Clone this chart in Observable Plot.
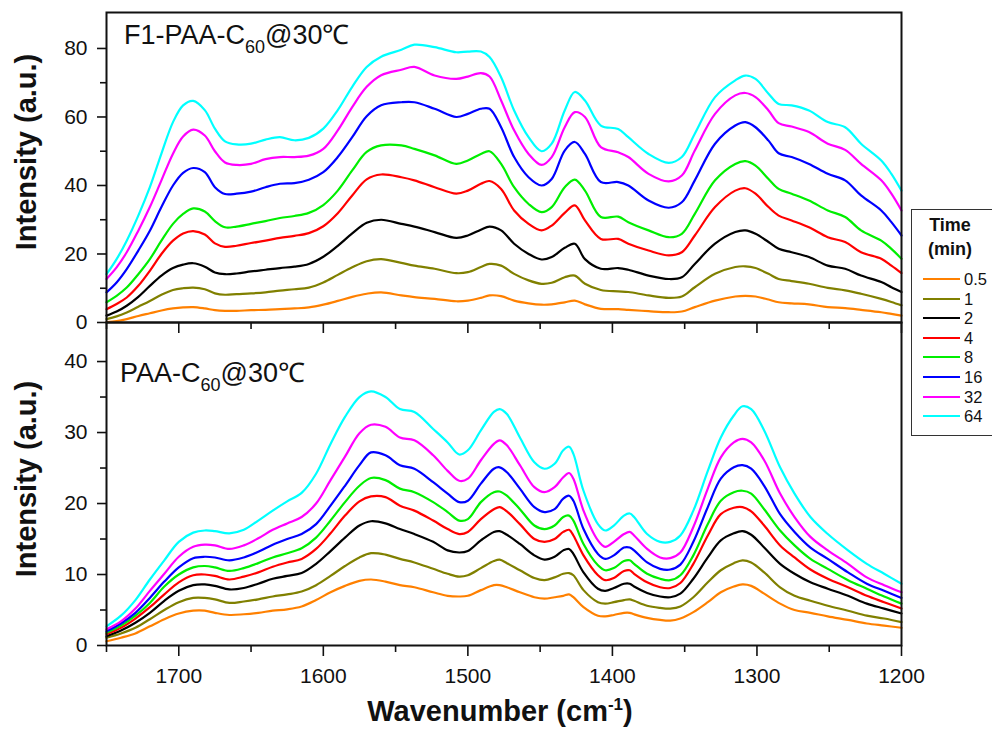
<!DOCTYPE html>
<html><head><meta charset="utf-8">
<script src="https://cdn.jsdelivr.net/npm/d3@7"></script>
<script src="https://cdn.jsdelivr.net/npm/@observablehq/plot@0.6"></script>
<style>
html,body{margin:0;padding:0;background:#fff;}
#wrap{position:relative;width:992px;height:730px;overflow:hidden;font-family:"Liberation Sans",Arial,sans-serif;color:#111;background:#fff;}
#wrap svg{position:absolute;left:0;}
.ylab{position:absolute;font-weight:bold;font-size:29px;line-height:1;white-space:nowrap;transform:translate(-50%,-50%) rotate(-90deg);}
.xlab{position:absolute;font-weight:bold;font-size:29px;line-height:1;white-space:nowrap;transform:translate(-50%,-50%);}
.xlab sup{font-size:17px;vertical-align:11px;line-height:0;}
.plab{position:absolute;font-size:27px;line-height:27px;white-space:nowrap;}
.plab sub{font-size:18px;vertical-align:-9px;line-height:0;}
#legend{position:absolute;left:911px;top:209px;width:100px;height:227px;border:1.5px solid #333;box-sizing:border-box;}
.lt{position:absolute;font-weight:bold;font-size:18px;line-height:1;transform:translate(-50%,-50%);white-space:nowrap;}
.li{position:absolute;font-size:16.5px;line-height:1;transform:translateY(-50%);}
.ls{position:absolute;height:2px;transform:translateY(-50%);}
</style></head><body><div id="wrap"></div>
<script>
// ---- categories / tick labels ----
const times = ["0.5", "1", "2", "4", "8", "16", "32", "64"];
const colors = ["#FF8000", "#808000", "#000000", "#FF0000", "#00EE00", "#0000FF", "#FF00FF", "#00FFFF"];
const xMajor = [1700, 1600, 1500, 1400, 1300, 1200];
const xMinor = [1750, 1650, 1550, 1450, 1350, 1250];
const yTopMajor = [0, 20, 40, 60, 80];
const yTopMinor = [10, 30, 50, 70];
const yBotMajor = [0, 10, 20, 30, 40];
const yBotMinor = [5, 15, 25, 35];

// ---- top panel: F1-PAA-C60 ----
const wnTop = [1750,1743,1736,1728,1720,1712,1704,1697,1690,1682,1675,1668,1660,1650,1640,1630,1620,1610,1600,1590,1580,1570,1560,
  1546,1537,1523,1508,1500,1491,1485,1477,1468,1458,1449,1442,1433,1426,1419,1408,1396,1389,1375,1361,1352,1343,1329,1315,1308,1301,1292,1285,1276,1264,1251,1239,1228,1214,1207,1200];
const top05 = [0.1,0.4,1.0,1.9,2.7,3.5,4.1,4.4,4.5,4.1,3.6,3.4,3.4,3.6,3.7,3.9,4.1,4.4,5.2,6.3,7.5,8.4,8.8,
  7.9,7.4,6.9,6.2,6.4,7.2,7.9,7.7,6.4,5.6,5.2,5.3,5.9,6.4,5.3,4.0,3.9,3.7,3.3,3.0,3.2,4.5,6.4,7.6,7.8,7.6,6.7,5.9,5.6,5.3,4.5,4.2,3.7,3.0,2.5,2.0];
const top1 = [1.0,1.8,2.9,4.6,6.3,8.1,9.5,10.0,10.2,9.7,8.5,8.1,8.3,8.5,8.8,9.3,9.7,10.2,11.7,13.9,16.1,17.9,18.5,
  17.4,16.6,15.7,14.4,14.7,16.2,17.1,16.6,14.2,12.3,11.3,11.6,13.2,13.7,11.3,9.5,9.1,8.9,7.9,7.2,7.6,10.3,14.2,16.2,16.4,15.9,14.2,12.7,12.1,11.3,10.1,9.4,8.4,6.9,6.0,5.0];
const top2 = [2.0,3.2,4.9,7.5,10.7,13.7,15.9,16.9,17.3,16.3,14.6,14.1,14.3,14.9,15.4,15.9,16.3,17.1,19.2,22.4,26.0,29.1,30.0,
  28.8,28.0,26.4,24.7,25.4,27.1,28.0,26.9,23.0,20.0,18.4,19.1,21.8,23.0,18.5,15.7,15.9,15.4,13.7,12.7,13.2,17.1,23.0,26.4,26.9,25.9,23.5,21.5,20.5,19.1,16.6,15.7,13.7,11.8,10.3,8.9];
const top4 = [3.9,5.4,7.3,10.7,15.1,20.0,23.9,26.0,26.7,25.7,23.1,22.1,22.4,23.2,23.9,24.7,25.3,26.1,28.1,31.9,37.1,41.8,43.2,
  42.4,41.5,39.5,37.6,38.5,40.5,41.3,39.0,32.7,28.8,26.9,28.3,32.0,34.2,29.8,24.4,24.4,23.0,21.0,19.6,20.5,25.4,33.7,38.5,39.2,37.6,33.7,31.2,29.8,27.8,24.9,23.5,20.5,18.6,16.6,14.4];
const top8 = [5.9,7.8,10.2,14.1,18.5,23.9,28.8,31.7,33.3,32.4,29.6,27.8,28.0,28.8,29.6,30.5,31.1,32.0,34.3,38.5,44.4,49.8,51.7,
  51.7,50.7,48.8,46.3,47.3,49.2,50.0,46.3,39.5,34.6,32.2,33.7,39.5,41.7,38.5,30.8,30.9,29.3,26.9,24.9,25.9,31.7,41.5,46.3,47.1,45.8,41.9,39.0,37.6,35.6,32.7,30.8,26.9,23.9,21.5,18.6];
const top16 = [8.8,11.7,15.6,21.0,26.8,33.7,40.0,43.7,45.1,43.9,39.5,37.5,37.6,38.2,39.5,40.5,40.7,41.7,43.9,48.3,54.1,60.2,63.4,
  64.3,64.3,62.4,60.0,60.9,62.4,62.4,57.0,48.3,42.4,40.0,41.9,50.2,52.7,49.2,41.0,41.0,40.0,35.6,33.5,35.1,41.5,52.2,57.5,58.5,57.0,53.1,49.4,48.3,46.3,43.4,41.5,37.1,32.7,29.3,25.4];
const top32 = [12.7,16.1,20.5,26.8,33.7,41.5,49.3,54.3,56.3,54.6,50.0,46.7,46.0,46.3,47.7,48.3,48.3,48.7,50.7,56.1,62.9,68.8,72.2,
  73.8,74.6,72.1,71.1,71.8,72.8,71.8,64.8,56.1,49.2,46.0,48.3,57.0,61.4,60.0,51.2,49.7,48.3,43.4,41.2,42.9,50.2,60.9,66.3,67.0,65.8,61.9,58.2,57.2,55.6,52.2,50.4,46.3,41.5,37.6,32.7];
const top64 = [14.1,18.5,23.9,31.2,39.5,49.3,58.5,63.4,64.7,62.0,56.6,52.9,52.0,52.2,53.4,54.1,53.2,53.9,56.6,62.0,68.8,74.6,77.6,
  79.6,81.1,80.4,78.9,79.1,79.1,77.5,71.6,61.9,54.1,50.0,52.2,61.9,67.3,64.8,57.5,56.5,54.1,49.2,46.6,48.3,55.1,65.8,70.7,72.1,71.1,66.8,63.8,63.4,61.9,58.5,57.0,52.2,47.3,43.4,38.5];

// ---- bottom panel: PAA-C60 ----
const wnBot = [1750,1740,1730,1720,1710,1700,1690,1682,1675,1665,1655,1645,1635,1625,1615,1605,1595,1585,1575,1567,1557,
  1547,1537,1524,1514,1506,1500,1491,1482,1478,1473,1464,1454,1447,1440,1434,1430,1427,1420,1410,1405,1399,1392,1388,1385,1376,1367,1360,1353,1344,1334,1325,1316,1310,1304,1295,1284,1274,1263,1251,1237,1224,1212,1200];
const bot05 = [0.6,1.1,1.7,2.7,3.7,4.5,4.9,4.9,4.6,4.3,4.4,4.6,4.9,5.1,5.5,6.4,7.5,8.4,9.1,9.3,9.0,
  8.5,8.2,7.5,7.0,6.9,7.0,7.8,8.5,8.5,8.2,7.5,6.8,6.6,6.8,7.0,7.2,6.8,5.4,4.2,4.1,4.3,4.6,4.6,4.4,3.9,3.6,3.5,3.8,4.7,6.1,7.5,8.3,8.6,8.4,7.3,5.9,5.0,4.6,4.1,3.6,3.1,2.8,2.5];
const bot1 = [1.1,1.7,2.5,3.7,5.0,6.1,6.7,6.7,6.5,6.0,6.2,6.5,6.9,7.2,7.6,8.5,9.8,11.2,12.4,13.0,12.8,
  12.2,11.7,10.8,10.1,9.7,9.9,10.9,11.9,12.1,11.6,10.6,9.5,9.2,9.6,10.1,10.2,9.9,7.8,6.1,5.9,6.1,6.4,6.5,6.3,5.6,5.3,5.2,5.5,6.8,8.9,10.6,11.6,12.0,11.7,10.3,8.2,7.0,6.3,5.6,4.9,4.2,3.8,3.3];
const bot2 = [1.3,2.1,3.2,4.6,6.3,7.7,8.5,8.6,8.4,7.9,8.1,8.7,9.4,9.8,10.2,11.5,13.3,15.2,16.9,17.5,17.2,
  16.4,15.7,14.6,13.4,13.1,13.3,14.8,16.0,16.1,15.6,14.3,12.7,12.1,12.5,13.4,13.6,12.9,10.3,8.0,7.7,8.1,8.7,8.7,8.3,7.4,6.9,6.8,7.3,9.4,12.4,14.8,15.8,16.1,15.6,13.8,11.5,10.1,8.9,8.0,7.0,5.9,5.2,4.5];
const bot4 = [1.6,2.5,3.8,5.4,7.2,8.9,9.9,10.0,9.8,9.3,9.7,10.3,11.1,11.7,12.2,13.6,15.8,18.3,20.3,21.0,20.9,
  19.7,19.0,17.6,16.4,15.7,16.0,17.8,19.2,19.5,18.9,17.1,15.0,14.6,15.0,16.0,16.3,15.5,12.7,9.9,9.2,9.5,10.5,10.6,10.1,8.9,8.2,8.1,8.8,11.5,15.5,18.5,19.4,19.5,18.9,16.9,14.1,12.4,10.7,9.4,8.2,7.0,6.1,5.2];
const bot8 = [1.8,2.8,4.2,6.0,8.3,10.0,11.0,11.2,11.0,10.5,10.9,11.6,12.4,13.0,13.7,15.2,17.6,20.2,22.5,23.6,23.3,
  22.1,21.6,20.2,18.8,17.6,17.8,20.2,21.6,21.7,21.1,19.2,16.9,16.4,16.9,18.1,18.3,17.6,14.3,11.3,10.6,10.9,11.9,12.0,11.5,10.1,9.4,9.2,9.9,12.7,17.1,20.4,21.6,21.8,21.4,19.2,16.2,14.1,12.2,10.8,9.2,8.0,6.9,5.9];
const bot16 = [2.0,3.1,4.6,6.7,9.0,11.0,12.3,12.5,12.4,12.0,12.4,13.2,14.2,15.0,15.7,17.1,19.7,22.5,25.4,27.2,26.8,
  25.4,24.9,23.0,21.4,20.2,20.4,22.8,24.9,25.1,24.4,22.1,19.5,18.8,19.2,20.7,21.1,20.4,16.4,12.9,12.2,12.7,13.8,13.8,13.4,11.7,10.8,10.7,11.4,14.6,19.5,23.5,25.1,25.4,24.9,22.5,18.5,16.0,13.8,12.2,10.3,8.7,7.7,6.7];
const bot32 = [2.3,3.4,5.2,7.7,10.1,12.5,13.9,14.2,14.1,13.6,14.1,15.1,16.3,17.2,18.1,20.0,23.3,26.6,29.9,31.1,30.8,
  29.3,28.9,26.8,24.6,23.2,23.5,26.1,28.4,28.9,28.2,25.4,22.3,21.6,22.3,23.7,24.3,23.5,19.0,14.8,13.9,14.6,15.7,16.0,15.5,13.6,12.4,12.3,13.1,16.7,22.1,26.5,28.6,29.1,28.6,26.1,21.4,18.1,15.3,13.4,11.5,9.6,8.5,7.5];
const bot64 = [2.7,4.2,6.4,9.3,12.0,14.6,15.9,16.2,16.1,15.8,16.3,17.6,19.0,20.3,21.5,24.2,28.4,32.2,35.0,35.8,35.0,
  33.3,32.9,30.5,28.6,26.9,27.5,30.3,32.9,33.3,32.6,29.3,25.8,24.9,25.6,27.5,28.0,27.0,21.8,17.1,16.2,16.9,18.3,18.6,18.1,15.7,14.6,14.6,15.5,19.0,24.6,29.3,32.4,33.7,33.3,30.3,25.1,21.4,18.1,15.7,13.4,11.5,10.1,8.7];

const topSeries = [top05, top1, top2, top4, top8, top16, top32, top64];
const botSeries = [bot05, bot1, bot2, bot4, bot8, bot16, bot32, bot64];

function rows(wn, series) {
  const out = [];
  series.forEach((vals, i) => vals.forEach((v, j) => out.push({wn: wn[j], v, time: times[i]})));
  return out;
}
const topRows = rows(wnTop, topSeries);
const botRows = rows(wnBot, botSeries);

const FONT = "Liberation Sans, Arial, sans-serif";
const axisStyle = {strokeWidth: 1.6, label: null};

function panel(data, yDomain, yMajor, yMinor, opts) {
  return Plot.plot({
    width: 992, height: opts.height,
    marginLeft: 106, marginRight: 91, marginTop: opts.mt, marginBottom: opts.mb,
    x: {domain: [1750, 1200]},
    y: {domain: yDomain},
    color: {domain: times, range: colors},
    style: {background: "none", overflow: "visible", fontFamily: FONT, color: "#111"},
    marks: [
      Plot.line(data, {x: "wn", y: "v", z: "time", stroke: "time", strokeWidth: 2.2, curve: "catmull-rom"}),
      Plot.axisY({ticks: yMajor, tickSize: 9, tickPadding: 10, fontSize: 21, ...axisStyle}),
      Plot.axisY({ticks: yMinor, tickSize: 6, tickFormat: () => "", ...axisStyle}),
      Plot.axisX({ticks: xMajor, tickSize: 11, tickPadding: 12, fontSize: 21,
        tickFormat: opts.xlabels ? (d => String(d)) : (() => ""), ...axisStyle}),
      Plot.axisX({ticks: xMinor, tickSize: 7, tickFormat: () => "", ...axisStyle}),
      Plot.frame({stroke: "#111", strokeWidth: 2})
    ]
  });
}

const wrap = document.getElementById("wrap");
const topSvg = panel(topRows, [0, 90.5], yTopMajor, yTopMinor, {height: 340, mt: 12, mb: 18, xlabels: false});
topSvg.style.top = "0px";
const botSvg = panel(botRows, [0, 45.5], yBotMajor, yBotMinor, {height: 383, mt: 10, mb: 50, xlabels: true});
botSvg.style.top = "312px";
wrap.appendChild(topSvg);
wrap.appendChild(botSvg);

function addDiv(cls, html, css) {
  const d = document.createElement("div");
  d.className = cls; d.innerHTML = html;
  Object.assign(d.style, css);
  wrap.appendChild(d);
  return d;
}
addDiv("ylab", "Intensity (a.u.)", {left: "26px", top: "152px"});
addDiv("ylab", "Intensity (a.u.)", {left: "26px", top: "479px"});
addDiv("xlab", "Wavenumber (cm<sup>-1</sup>)", {left: "500px", top: "711px"});
addDiv("plab", "F1-PAA-C<sub>60</sub>@30℃", {left: "124px", top: "22px"});
addDiv("plab", "PAA-C<sub>60</sub>@30℃", {left: "120px", top: "360px"});

// legend
const lg = document.createElement("div");
lg.id = "legend";
wrap.appendChild(lg);
addDiv("lt", "Time", {left: "950px", top: "225px"});
addDiv("lt", "(min)", {left: "950px", top: "249px"});
times.forEach((t, i) => {
  const y = 279 + i * 19.6;
  addDiv("ls", "", {left: "923px", width: "37px", top: y + "px", background: colors[i]});
  addDiv("li", t, {left: "964px", top: y + "px"});
});
</script></body></html>
